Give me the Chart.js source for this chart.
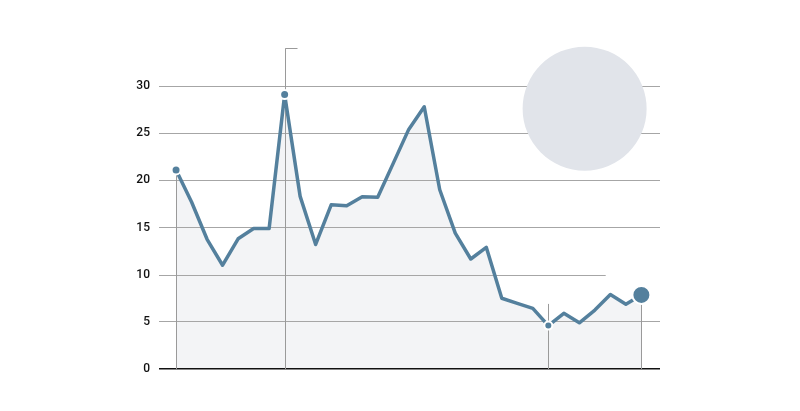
<!DOCTYPE html>
<html>
<head>
<meta charset="utf-8">
<script src="https://cdn.jsdelivr.net/npm/chart.js@4"></script>
<style>
  html, body { margin: 0; padding: 0; background: #fff; }
  canvas { display: block; }
</style>
</head>
<body>
<canvas id="trend" width="800" height="411"></canvas>
<script>
// values, one per period
const periods = [0, 1, 2, 3, 4, 5, 6, 7, 8, 9, 10, 11, 12, 13, 14, 15, 16, 17, 18, 19, 20, 21, 22, 23, 24, 25, 26, 27, 28, 29, 30];
const values = [21.1, 17.7, 13.75, 11.0, 13.8, 14.9, 14.9, 29.1, 18.3, 13.2, 17.4, 17.3, 18.25, 18.2, 21.8, 25.4, 27.8,
    19.0, 14.4, 11.66, 12.9, 7.5, 6.96, 6.43, 4.6, 5.9, 4.9, 6.25, 7.9, 6.86, 7.85];
const yTicks = [0, 5, 10, 15, 20, 25, 30];

// highlighted periods and where their leader lines start (null = at the point)
const markerIdx = [0, 7, 24, 30];
const markerTop = [null, 34, 6.9, null];

// grey disc in the upper right
const discPoint = [{ x: 26.34, y: 27.6 }];

const LINE = '#54809d';
const GRID = '#a6a6a6';
const dotSize = { 0: 4.5, 7: 4.5, 24: 4, 30: 9 };

// leader lines + the shortened 10 gridline
const guides = {
    id: 'guides',
    beforeDatasetsDraw(chart) {
        const { ctx, chartArea } = chart;
        const x = chart.scales.x, y = chart.scales.y;
        ctx.save();
        ctx.lineWidth = 1;
        ctx.strokeStyle = GRID;
        const y10 = Math.round(y.getPixelForValue(10)) + 0.5;
        ctx.beginPath();
        ctx.moveTo(chartArea.left, y10);
        ctx.lineTo(x.getPixelForValue(27.7), y10);
        ctx.stroke();

        ctx.strokeStyle = '#9a9a9a';
        markerIdx.forEach((idx, i) => {
            const px = Math.round(x.getPixelForValue(periods[idx])) + 0.5;
            const top = y.getPixelForValue(markerTop[i] === null ? values[idx] : markerTop[i]);
            ctx.beginPath();
            ctx.moveTo(px, top);
            ctx.lineTo(px, y.getPixelForValue(0));
            if (markerTop[i] !== null && markerTop[i] > y.max) {
                ctx.moveTo(px, Math.round(top) + 0.5);
                ctx.lineTo(px + 12, Math.round(top) + 0.5);
            }
            ctx.stroke();
        });
        ctx.restore();
    }
};

new Chart(document.getElementById('trend'), {
    type: 'line',
    data: {
        datasets: [
            {
                data: periods.map((p, i) => ({ x: p, y: values[i] })),
                borderColor: LINE,
                borderWidth: 3.5,
                borderJoinStyle: 'round',
                backgroundColor: '#f3f4f6',
                fill: 'origin',
                tension: 0,
                clip: false,
                pointRadius: ctx => dotSize[ctx.dataIndex] || 0,
                pointHoverRadius: ctx => dotSize[ctx.dataIndex] || 0,
                pointBackgroundColor: LINE,
                pointBorderColor: '#fff',
                pointBorderWidth: 2
            },
            {
                type: 'scatter',
                data: discPoint,
                backgroundColor: '#e1e4ea',
                borderWidth: 0,
                pointRadius: 62,
                pointHoverRadius: 62,
                clip: false,
                fill: false
            }
        ]
    },
    plugins: [guides],
    options: {
        responsive: false,
        animation: false,
        events: [],
        layout: { autoPadding: false, padding: { top: 86, right: 140, bottom: 42, left: 0 } },
        plugins: {
            legend: { display: false },
            tooltip: { enabled: false },
            filler: { drawTime: 'beforeDraw' }
        },
        scales: {
            x: { type: 'linear', display: false, min: -1.1, max: 31.2 },
            y: {
                min: 0,
                max: 30,
                afterFit: s => { s.width = 159; },
                afterBuildTicks: s => { s.ticks = yTicks.map(v => ({ value: v })); },
                border: { display: false },
                grid: {
                    drawTicks: false,
                    color: c => c.tick.value === 0 ? '#111' : (c.tick.value === 10 ? 'transparent' : GRID),
                    lineWidth: c => c.tick.value === 0 ? 1.6 : 1
                },
                ticks: {
                    padding: 9,
                    color: '#111',
                    font: { family: 'Roboto', size: 12, weight: '500' }
                }
            }
        }
    }
});
</script>
</body>
</html>
